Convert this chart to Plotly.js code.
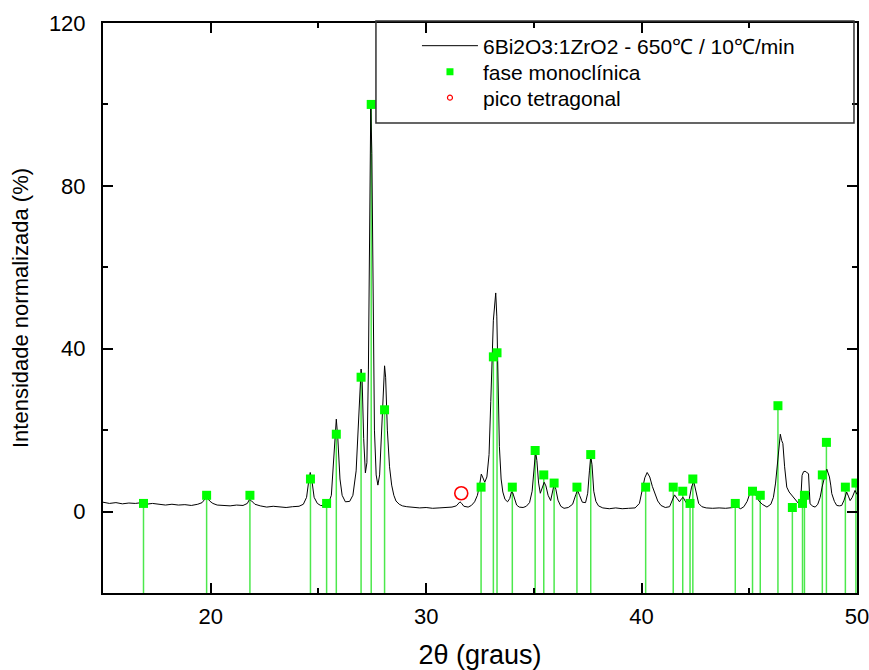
<!DOCTYPE html>
<html>
<head>
<meta charset="utf-8">
<script src="https://cdn.plot.ly/plotly-3.0.1.min.js"></script>
<style>html,body{margin:0;padding:0;background:#fff;}#chart{width:869px;height:670px;}</style>
</head>
<body>
<div id="chart"></div>
<script>
// XRD pattern (2theta, normalized intensity %)
var twoTheta = [15.0,15.3,15.6,15.9,16.2,16.5,16.8,17.0,17.3,17.6,17.9,18.2,18.5,18.8,19.1,19.4,19.6,19.75,19.85,19.95,20.1,20.3,20.6,20.9,21.2,21.5,21.7,21.8,21.9,22.05,22.3,22.6,22.9,23.2,23.5,23.8,24.1,24.3,24.45,24.55,24.62,24.7,24.8,24.95,25.1,25.3,25.45,25.6,25.7,25.78,25.83,25.9,26.0,26.1,26.25,26.45,26.6,26.75,26.85,26.93,26.98,27.03,27.1,27.18,27.25,27.32,27.38,27.43,27.48,27.53,27.6,27.68,27.76,27.84,27.92,28.0,28.07,28.12,28.2,28.3,28.4,28.5,28.6,28.75,28.9,
29.1,29.4,29.7,30.0,30.3,30.6,30.9,31.2,31.4,31.5,31.57,31.65,31.75,31.95,32.1,32.25,32.38,32.48,32.56,32.62,32.72,32.82,32.92,33.0,33.07,33.12,33.17,33.23,33.28,33.33,33.4,33.48,33.56,33.66,33.78,33.88,33.96,34.02,34.1,34.2,34.32,34.5,34.65,34.8,34.92,35.0,35.08,35.14,35.22,35.3,35.38,35.48,35.56,35.66,35.78,35.86,35.94,36.02,36.12,36.25,36.4,36.6,36.8,36.95,37.03,37.12,37.25,37.4,37.5,37.58,37.64,37.7,37.78,37.88,38.0,38.2,38.5,
38.8,39.1,39.4,39.7,39.9,40.03,40.15,40.26,40.38,40.5,40.62,40.75,40.9,41.1,41.3,41.42,41.53,41.65,41.76,41.86,41.93,42.02,42.11,42.22,42.32,42.42,42.52,42.65,42.8,43.0,43.3,43.6,43.9,44.2,44.45,44.6,44.75,44.9,45.05,45.17,45.3,45.45,45.6,45.82,46.0,46.12,46.22,46.3,46.38,46.44,46.5,46.56,46.64,46.74,46.85,46.98,47.1,47.21,47.3,47.36,47.4,47.45,47.52,47.59,47.67,47.75,47.79,47.82,47.95,48.06,48.18,48.29,48.38,48.44,48.52,48.6,48.66,48.72,48.78,48.83,48.95,49.06,49.18,49.29,49.4,49.52,49.6,49.68,49.78,49.91,50.0];
var intensity = [2.3,2.0,2.2,1.9,2.1,2.0,2.2,1.8,2.0,1.8,1.6,1.8,1.6,1.7,1.5,1.8,2.2,3.2,3.4,2.6,2.0,1.6,1.5,1.4,1.6,1.5,2.0,3.0,2.6,1.8,1.4,1.1,1.3,1.1,1.0,1.2,1.3,1.8,3.5,7.5,9.6,7.5,3.5,2.0,1.5,1.4,1.8,4.0,12,20,22.7,18,8,4,2.4,2.5,4.0,10,22,32,35,32,18,9.5,12,35,75,100,88,50,20,9,6.5,9,18,30,35.8,33,20,11,6.5,4,2.6,1.8,1.4,
1.2,1.0,0.9,1.0,0.8,0.9,1.0,1.1,1.4,2.0,2.4,2.0,1.3,1.1,1.5,2.4,4.0,6.5,9.2,8.5,7.2,8.5,14,27,40,47,50,53.7,48,33,16,8,4.8,3.0,2.4,3.2,4.8,4.6,3.0,1.6,1.1,1.0,1.3,2.2,5,10,14.8,12.5,7,4.5,5.5,7.2,6.3,4.0,2.7,4.5,6.7,5.5,2.8,1.3,0.8,1.0,1.8,4.2,5.2,4.0,2.3,2.2,4.5,10,13.6,11.5,5,2.5,1.4,0.9,0.7,
0.9,0.7,0.8,0.9,2.0,5.2,8.3,9.6,8.5,6.2,4.2,2.6,1.5,1.0,1.2,3.0,4.1,3.2,2.4,3.2,3.5,2.6,1.9,3.2,6.0,7.4,5.0,2.0,1.2,0.9,0.8,0.9,0.8,1.0,1.1,0.7,1.2,2.5,4.8,5.4,4.0,2.6,1.8,1.1,1.8,3.5,7,12,17,19.0,17.5,16.7,11,6.0,4.8,4.0,3.2,2.7,2.0,1.5,4,8.9,9.8,9.9,9.6,9.3,5,1.9,1.3,1.1,1.8,3.5,6.0,7.7,9.0,10.4,9.5,8.5,6.5,4.4,2.5,1.5,1.4,1.5,2.8,4.8,3.8,2.7,3.5,5.2,4.2];

// Monoclinic phase reference peaks
var monoPos = [16.88,19.81,21.82,24.63,25.38,25.83,26.98,27.45,28.07,32.55,33.12,33.29,34.0,35.06,35.46,35.94,37.0,37.64,40.19,41.47,41.91,42.25,42.38,44.35,45.15,45.51,46.33,47.0,47.47,47.56,48.39,48.58,49.46,49.95];
var monoInt = [2,4,4,8,2,19,33,100,25,6,38,39,6,15,9,7,6,14,6,6,5,2,8,2,5,4,26,1,2,4,9,17,6,7];

// Tetragonal peak
var tetraPos = [31.63];
var tetraInt = [4.5];

// Legend labels
var seriesNames = ['6Bi2O3:1ZrO2 - 650℃ / 10℃/min', 'fase monoclínica', 'pico tetragonal'];

var baseY = -20;
var stickX = [], stickY = [];
for (var i = 0; i < monoPos.length; i++) {
  stickX.push(monoPos[i], monoPos[i], null);
  stickY.push(baseY, monoInt[i], null);
}

var FONT = 'Liberation Sans, Arial, sans-serif';
var green = '#00ff00';

var traces = [
  {x: stickX, y: stickY, mode: 'lines', line: {color: '#4ce84c', width: 1.5}, showlegend: false, hoverinfo: 'skip'},
  {x: twoTheta, y: intensity, mode: 'lines', line: {color: '#000000', width: 1}, showlegend: false},
  {x: monoPos, y: monoInt, mode: 'markers', marker: {symbol: 'square', size: 9, color: green}, showlegend: false},
  {x: tetraPos, y: tetraInt, mode: 'markers', marker: {symbol: 'circle-open', size: 13, color: '#ff0000', line: {width: 1.6, color: '#ff0000'}}, showlegend: false},
  // legend entries (one legend per row)
  {x: [null], y: [null], mode: 'lines', line: {color: '#000000', width: 1}, name: seriesNames[0], legend: 'legend'},
  {x: [null], y: [null], mode: 'markers', marker: {symbol: 'square', size: 7, color: green}, name: seriesNames[1], legend: 'legend2'},
  {x: [null], y: [null], mode: 'markers', marker: {symbol: 'circle-open', size: 5, color: '#ff0000', line: {width: 1.2, color: '#ff0000'}}, name: seriesNames[2], legend: 'legend3'}
];

function legendRow(yc) {
  return {x: 0.4164, y: yc, xanchor: 'left', yanchor: 'middle', bgcolor: 'rgba(0,0,0,0)', borderwidth: 0,
          font: {family: FONT, size: 21, color: '#000'}, itemwidth: 56};
}

var layout = {
  width: 869, height: 670,
  margin: {l: 103, r: 12, t: 23, b: 77},
  paper_bgcolor: '#ffffff', plot_bgcolor: '#ffffff',
  font: {family: FONT, color: '#000000', size: 22},
  showlegend: true,
  legend: legendRow(0.9596),
  legend2: legendRow(0.914),
  legend3: legendRow(0.8684),
  xaxis: {
    range: [15, 50], tickvals: [20, 30, 40, 50], ticks: 'inside', ticklen: 10, tickwidth: 2, tickcolor: '#000',
    showline: true, linewidth: 2, linecolor: '#000', mirror: 'ticks', showgrid: false, zeroline: false,
    minor: {dtick: 5, tick0: 0, ticks: 'inside', ticklen: 5, tickwidth: 2, tickcolor: '#000'},
    tickfont: {family: FONT, size: 22}, ticklabelstandoff: 3, ticklabeloverflow: 'allow',
    title: {text: '2θ (graus)', font: {family: FONT, size: 27}, standoff: 19}
  },
  yaxis: {
    range: [-20, 120], tickvals: [0, 40, 80, 120], ticks: 'inside', ticklen: 10, tickwidth: 2, tickcolor: '#000',
    showline: true, linewidth: 2, linecolor: '#000', mirror: 'ticks', showgrid: false, zeroline: false,
    minor: {dtick: 20, tick0: 0, ticks: 'inside', ticklen: 5, tickwidth: 2, tickcolor: '#000'},
    tickfont: {family: FONT, size: 22}, ticklabelstandoff: 11, ticklabeloverflow: 'allow',
    title: {text: 'Intensidade normalizada (%)', font: {family: FONT, size: 22}, standoff: 14}
  },
  shapes: [
    {type: 'rect', xref: 'paper', yref: 'paper', x0: 0.362, x1: 0.996, y0: 0.8246, y1: 1.0035,
     line: {color: '#333333', width: 1.5}, fillcolor: 'rgba(0,0,0,0)'}
  ]
};

Plotly.newPlot('chart', traces, layout, {displayModeBar: false, staticPlot: true});
</script>
</body>
</html>
